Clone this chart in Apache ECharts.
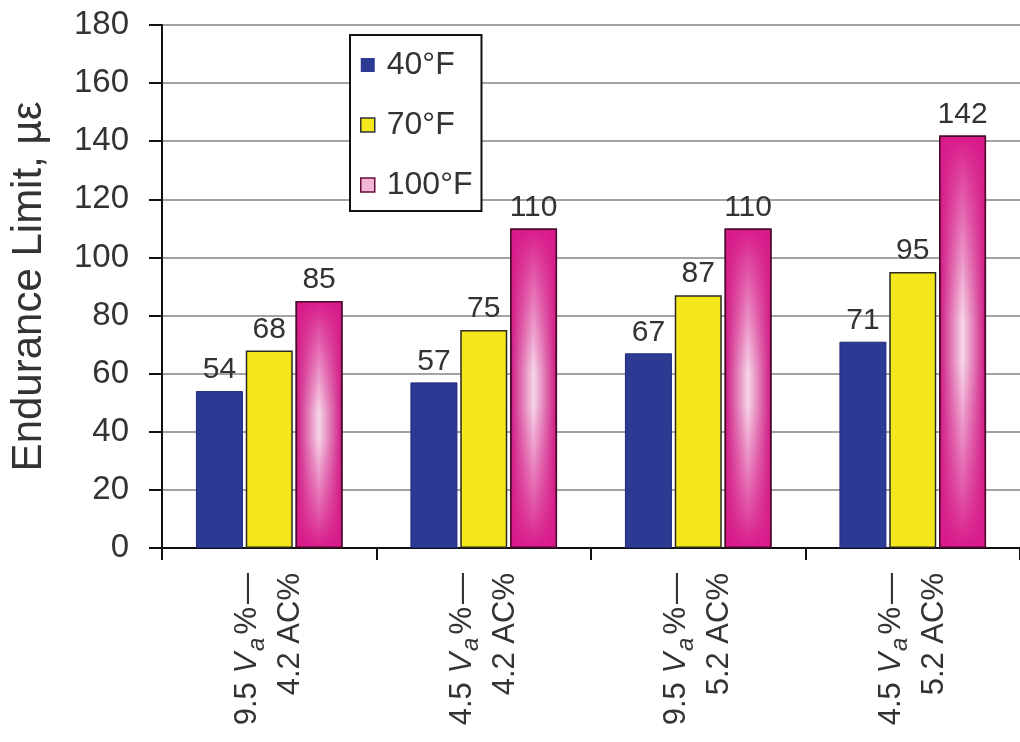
<!DOCTYPE html>
<html>
<head>
<meta charset="utf-8">
<title>Endurance Limit</title>
<script src="https://cdn.jsdelivr.net/npm/echarts@6/dist/echarts.min.js"></script>
<style>
  html, body { margin: 0; padding: 0; background: #ffffff; }
  #chart { width: 1020px; height: 742px; }
</style>
</head>
<body>
<div id="chart"></div>
<script>
// Mix designs: air voids (Va %) and asphalt content (AC %)
const vaPercent = ['9.5', '4.5', '9.5', '4.5'];
const acPercent = ['4.2', '4.2', '5.2', '5.2'];
const categories = vaPercent.map((v, i) => v + ' Va%–' + acPercent[i] + ' AC%');

// Endurance limit (microstrain) at each test temperature
const seriesNames = ['40°F', '70°F', '100°F'];
const temp40 = [54, 57, 67, 71];
const temp70 = [68, 75, 87, 95];
const temp100 = [85, 110, 110, 142];

// Y-axis ticks
const yMin = 0, yMax = 180, yStep = 20;

const FONT = '"Liberation Sans", Arial, Helvetica, sans-serif';
const TXT = '#333333';
const BAR_W = 47;
const BAR_GAP = '6%';

const chart = echarts.init(document.getElementById('chart'), null, { renderer: 'canvas' });

const labelStyle = {
  show: true,
  position: 'top',
  distance: 6,
  color: TXT,
  fontFamily: FONT,
  fontSize: 30
};

// Magenta bars: dark at the edges, light pink in the middle
const pinkSide = new echarts.graphic.LinearGradient(0, 0, 1, 0, [
  { offset: 0, color: '#cc137e' },
  { offset: 0.5, color: '#f6d6e8' },
  { offset: 1, color: '#cc137e' }
]);
// Vertical shading laid over the magenta bars (dark top and bottom)
const pinkShade = new echarts.graphic.LinearGradient(0, 0, 0, 1, [
  { offset: 0, color: 'rgba(216,26,138,1)' },
  { offset: 0.1, color: 'rgba(216,26,138,0.75)' },
  { offset: 0.45, color: 'rgba(216,26,138,0)' },
  { offset: 0.55, color: 'rgba(216,26,138,0)' },
  { offset: 0.9, color: 'rgba(216,26,138,0.75)' },
  { offset: 1, color: 'rgba(216,26,138,1)' }
]);

const option = {
  backgroundColor: '#ffffff',
  animation: false,
  grid: { left: 162, right: 0, top: 25, bottom: 194, containLabel: false },
  legend: {
    data: [
      { name: seriesNames[0], itemStyle: { color: '#2d3a94', borderColor: '#2d3a94', borderWidth: 0 } },
      { name: seriesNames[1], itemStyle: { color: '#f4e81c', borderColor: '#333', borderWidth: 1.5 } },
      { name: seriesNames[2], itemStyle: { color: '#f2b6d6', borderColor: '#6a0c3c', borderWidth: 1.5 } }
    ],
    orient: 'vertical',
    left: 350,
    top: 35,
    backgroundColor: '#ffffff',
    borderColor: '#111111',
    borderWidth: 2,
    borderRadius: 0,
    padding: [14, 9, 10, 10],
    itemGap: 28,
    itemWidth: 14,
    itemHeight: 14,
    icon: 'rect',
    selectedMode: false,
    textStyle: { color: TXT, fontFamily: FONT, fontSize: 32, lineHeight: 32, padding: [0, 0, 0, 7] }
  },
  xAxis: [
    {
      type: 'category',
      data: categories,
      axisLine: { lineStyle: { color: '#111', width: 2 } },
      axisTick: { show: true, length: 12, lineStyle: { color: '#111', width: 2 } },
      splitLine: { show: false },
      axisLabel: {
        interval: 0,
        rotate: 90,
        margin: 25,
        color: TXT,
        fontFamily: FONT,
        fontSize: 31,
        lineHeight: 43,
        formatter: function (value, idx) {
          return '{n|' + vaPercent[idx] + ' }{i|V}{s|a}{n|%}{d|—}\n{n|' + acPercent[idx] + ' AC%}';
        },
        rich: {
          n: { fontFamily: FONT, fontSize: 31, color: TXT, lineHeight: 43 },
          i: { fontFamily: FONT, fontSize: 31, color: TXT, fontStyle: 'italic', lineHeight: 43 },
          s: { fontFamily: FONT, fontSize: 24, color: TXT, fontStyle: 'italic', lineHeight: 43, verticalAlign: 'bottom', padding: [13, 3, 0, 2] },
          d: { fontFamily: FONT, fontSize: 31, color: TXT, lineHeight: 43, padding: [0, 0, 0, 3] }
        }
      }
    },
    {
      type: 'category',
      data: categories,
      show: false,
      gridIndex: 0
    }
  ],
  yAxis: {
    type: 'value',
    min: yMin,
    max: yMax,
    interval: yStep,
    name: 'Endurance Limit, µε',
    nameLocation: 'middle',
    nameGap: 112,
    nameTextStyle: { color: TXT, fontFamily: FONT, fontSize: 42 },
    axisLine: { show: true, lineStyle: { color: '#111', width: 2 } },
    axisTick: { show: true, length: 13, lineStyle: { color: '#111', width: 2 } },
    axisLabel: { color: TXT, fontFamily: FONT, fontSize: 33, margin: 33 },
    splitLine: { show: true, lineStyle: { color: '#a3a3a3', width: 2 } }
  },
  series: [
    {
      name: seriesNames[0], type: 'bar', xAxisIndex: 0, data: temp40,
      barWidth: BAR_W, barGap: BAR_GAP,
      itemStyle: { color: '#2d3a94', borderColor: '#1f2a78', borderWidth: 1 },
      label: labelStyle
    },
    {
      name: seriesNames[1], type: 'bar', xAxisIndex: 0, data: temp70,
      barWidth: BAR_W, barGap: BAR_GAP,
      itemStyle: { color: '#f4e81c', borderColor: '#2a2a20', borderWidth: 1.5 },
      label: labelStyle
    },
    {
      name: seriesNames[2], type: 'bar', xAxisIndex: 0, data: temp100,
      barWidth: BAR_W, barGap: BAR_GAP,
      itemStyle: { color: pinkSide, borderColor: '#4a0a2a', borderWidth: 1.5 },
      label: labelStyle
    },
    // Slot placeholders on the hidden axis so the shading lines up with the magenta bars
    { name: 'slot-a', type: 'bar', xAxisIndex: 1, data: temp40.map(() => '-'), barWidth: BAR_W, barGap: BAR_GAP, silent: true },
    { name: 'slot-b', type: 'bar', xAxisIndex: 1, data: temp70.map(() => '-'), barWidth: BAR_W, barGap: BAR_GAP, silent: true },
    {
      name: 'shade', type: 'bar', xAxisIndex: 1, data: temp100,
      barWidth: BAR_W, barGap: BAR_GAP, silent: true, z: 3,
      itemStyle: { color: pinkShade, borderColor: '#4a0a2a', borderWidth: 1.5 }
    }
  ]
};

chart.setOption(option);
</script>
</body>
</html>
